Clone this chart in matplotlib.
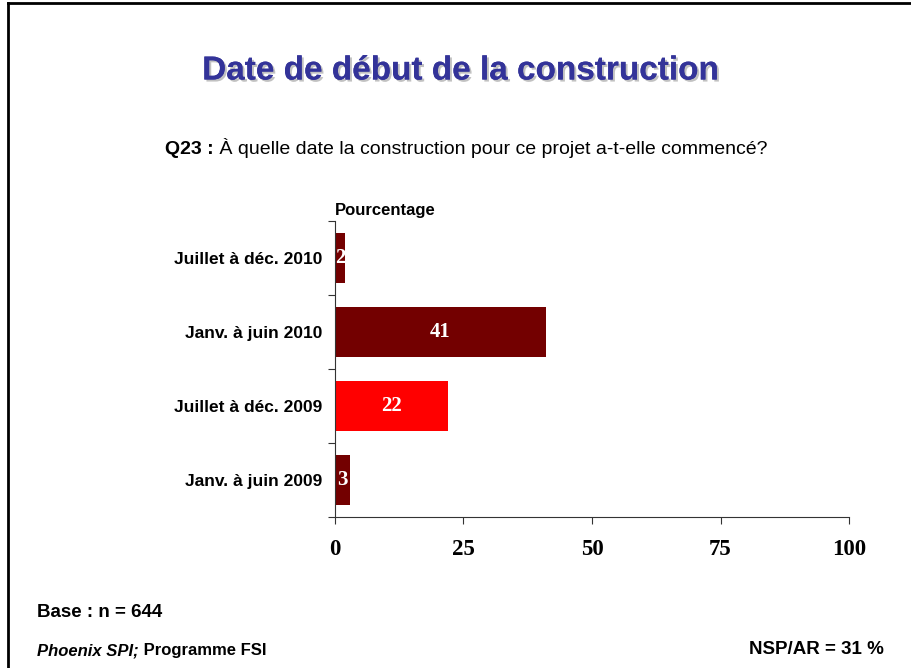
import matplotlib.pyplot as plt
import matplotlib.patheffects as pe
from matplotlib.lines import Line2D

categories = ["Janv. à juin 2009", "Juillet à déc. 2009",
              "Janv. à juin 2010", "Juillet à déc. 2010"]
values = [3, 22, 41, 2]
bar_colors = ["#730000", "#ff0000", "#730000", "#730000"]
x_ticks = [0, 25, 50, 75, 100]

W, H = 912, 668


def px(x, y):
    return x / W, 1 - y / H


def place_after(fig, first, text, **kw):
    # put a second text right after an existing one on the same baseline
    fig.canvas.draw()
    bb = first.get_window_extent()
    x0, y0 = fig.transFigure.inverted().transform((bb.x1, 0))
    return fig.text(x0, first.get_position()[1], text, **kw)


def main():
    fig = plt.figure(figsize=(9.12, 6.68), dpi=100)
    sans = "Liberation Sans"
    serif = "Liberation Serif"

    # slide frame (left and top edges only)
    fig.add_artist(Line2D([8 / W, 8 / W], [0, 1 - 3 / H], color="black",
                          lw=2, transform=fig.transFigure))
    fig.add_artist(Line2D([8 / W, 1], [1 - 3 / H, 1 - 3 / H], color="black",
                          lw=2, transform=fig.transFigure))

    ax = fig.add_axes([335 / W, 1 - 517 / H, (849 - 335) / W, (517 - 221) / H])
    ypos = range(len(categories))
    bars = ax.barh(ypos, values, height=0.68, color=bar_colors)
    for b, v in zip(bars, values):
        ax.text(b.get_width() / 2, b.get_y() + b.get_height() / 2, str(v),
                ha="center", va="center", color="white", family=serif,
                fontweight="bold", fontsize=15)

    ax.set_xlim(0, 100)
    ax.set_ylim(-0.5, len(categories) - 0.5)
    ax.set_xticks(x_ticks)
    ax.set_xticklabels([str(t) for t in x_ticks], family=serif,
                       fontweight="bold", fontsize=16.5)
    ax.set_yticks(list(ypos))
    ax.set_yticklabels(categories, family=sans, fontweight="bold",
                       fontsize=12.5)
    ax.set_yticks([i - 0.5 for i in range(len(categories) + 1)], minor=True)
    ax.tick_params(axis="y", which="major", length=0, pad=9)
    ax.tick_params(axis="y", which="minor", length=5, width=0.8,
                   color="#333333", direction="out")
    ax.tick_params(axis="x", length=5, width=0.8, color="#333333",
                   direction="out", pad=11)
    for s in ("top", "right"):
        ax.spines[s].set_visible(False)
    for s in ("left", "bottom"):
        ax.spines[s].set_color("#333333")
        ax.spines[s].set_linewidth(0.8)

    ax.text(0, 1.01, "Pourcentage", transform=ax.transAxes, ha="left",
            va="bottom", family=sans, fontweight="bold", fontsize=12)

    # title with soft shadow
    x, y = px(461, 71)
    fig.text(x, y, "Date de début de la construction", ha="center",
             va="center", family=sans, fontweight="bold", fontsize=24,
             color="#333399",
             path_effects=[pe.withSimplePatchShadow(offset=(1.5, -1.5),
                                                    shadow_rgbFace="#999999",
                                                    alpha=0.6),
                           pe.Normal()])

    x, y = px(165, 154)
    q = fig.text(x, y, "Q23 :", ha="left", va="baseline", family=sans,
                 fontweight="bold", fontsize=14)
    place_after(fig, q, " À quelle date la construction pour ce projet "
                "a-t-elle commencé?", ha="left", va="baseline", family=sans,
                fontsize=14)

    x, y = px(37, 617)
    fig.text(x, y, "Base : n = 644", ha="left", va="baseline", family=sans,
             fontweight="bold", fontsize=13.5)
    x, y = px(37, 655)
    p = fig.text(x, y, "Phoenix SPI;", ha="left", va="baseline",
                 family=sans, fontweight="bold", fontstyle="italic",
                 fontsize=12)
    place_after(fig, p, " Programme FSI", ha="left", va="baseline",
                family=sans, fontweight="bold", fontsize=12)
    x, y = px(884, 654)
    fig.text(x, y, "NSP/AR = 31 %", ha="right", va="baseline", family=sans,
             fontweight="bold", fontsize=13.5)

    fig.savefig("out.png", dpi=100)


if __name__ == "__main__":
    main()
